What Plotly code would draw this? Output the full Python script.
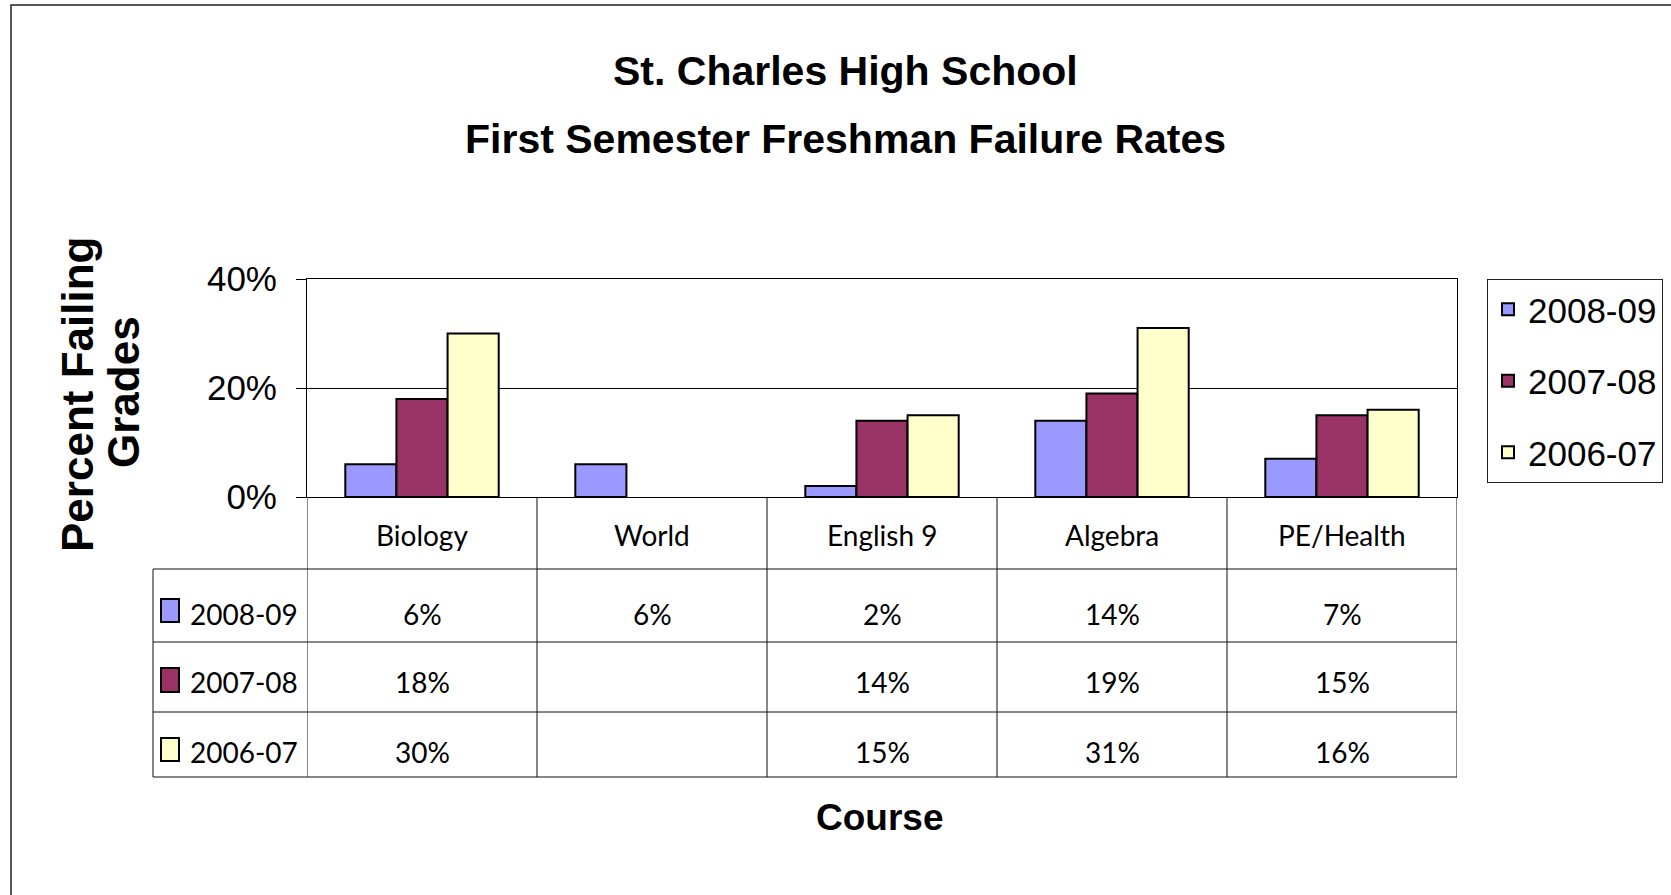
import plotly.graph_objects as go

# ---------------- data ----------------
categories = ["Biology", "World", "English 9", "Algebra", "PE/Health"]
series_names = ["2008-09", "2007-08", "2006-07"]
rate_2008_09 = [0.06, 0.06, 0.02, 0.14, 0.07]
rate_2007_08 = [0.18, None, 0.14, 0.19, 0.15]
rate_2006_07 = [0.30, None, 0.15, 0.31, 0.16]
series_colors = ["#9999FF", "#993366", "#FFFFCC"]
y_tickvals = [0, 0.2, 0.4]
y_ticktext = ["0%", "20%", "40%"]

title_line1 = "St. Charles High School"
title_line2 = "First Semester Freshman Failure Rates"
y_title_line1 = "Percent Failing"
y_title_line2 = "Grades"
x_title = "Course"

series_values = [rate_2008_09, rate_2007_08, rate_2006_07]

# ---------------- layout geometry (pixels) ----------------
W, H = 1671, 895
PL, PR, PT, PB = 307, 1457, 279, 497


def px(x):
    return (x - PL) / (PR - PL)


def py(y):
    return (PB - y) / (PB - PT)


ARIAL = "Liberation Sans, Arial, sans-serif"
TABLE_FONT = "Lato, Open Sans, sans-serif"

fig = go.Figure()
for name, vals, color in zip(series_names, series_values, series_colors):
    fig.add_trace(go.Bar(
        x=categories, y=vals, name=name, legendgroup=name,
        marker=dict(color=color, line=dict(color="black", width=2)),
    ))

shapes = []
annotations = []


def label(x, y, text, font, **kw):
    d = dict(xref="paper", yref="paper", x=x, y=y, text=text, showarrow=False,
             xanchor="center", yanchor="middle", font=font)
    d.update(kw)
    annotations.append(d)


# outer chart border
shapes.append(dict(type="rect", xref="paper", yref="paper",
                   x0=px(11), x1=px(W + 10), y0=py(5), y1=py(H + 10),
                   line=dict(color="#222222", width=1.5), fillcolor="rgba(0,0,0,0)",
                   layer="above"))

# data table grid
TABLE_LEFT = 153
row_lines = [569, 642, 712, 777]
for yl in row_lines:
    shapes.append(dict(type="line", xref="paper", yref="paper",
                       x0=px(TABLE_LEFT), x1=px(PR), y0=py(yl), y1=py(yl),
                       line=dict(color="#111111", width=1)))
shapes.append(dict(type="line", xref="paper", yref="paper",
                   x0=px(TABLE_LEFT), x1=px(TABLE_LEFT), y0=py(569), y1=py(777),
                   line=dict(color="#111111", width=1)))
for b in range(len(categories) + 1):
    shapes.append(dict(type="line", xref="x", yref="paper",
                       x0=b - 0.5, x1=b - 0.5, y0=py(PB), y1=py(777),
                       line=dict(color="#111111", width=1)))

tfont = dict(family=TABLE_FONT, size=28, color="black")

# category labels in header row
for c in categories:
    label(c, py(535), c, tfont, xref="x")

# row headers and values
row_text_y = [614, 682, 752]
key_boxes = [(599, 622), (668, 692), (738, 761)]
for name, vals, color, ty, (k0, k1) in zip(series_names, series_values, series_colors,
                                           row_text_y, key_boxes):
    shapes.append(dict(type="rect", xref="paper", yref="paper",
                       x0=px(161), x1=px(179), y0=py(k1), y1=py(k0),
                       fillcolor=color, line=dict(color="black", width=2)))
    label(px(188), py(ty), name, tfont, xanchor="left")
    for c, v in zip(categories, vals):
        if v is None:
            continue
        label(c, py(ty), f"{round(v * 100)}%", tfont, xref="x")

# titles
label(px(845), py(71), title_line1,
      dict(family=ARIAL, size=41, color="black", weight="bold"))
label(px(845), py(139), title_line2,
      dict(family=ARIAL, size=41, color="black", weight="bold"))
label(px(879), py(817), x_title,
      dict(family=ARIAL, size=37, color="black", weight="bold"))
label(px(77), py(395), y_title_line1,
      dict(family=ARIAL, size=44, color="black", weight="bold"), textangle=-90)
label(px(123), py(392), y_title_line2,
      dict(family=ARIAL, size=44, color="black", weight="bold"), textangle=-90)

fig.update_layout(
    width=W, height=H,
    margin=dict(l=PL, r=W - PR, t=PT, b=H - PB, pad=0, autoexpand=False),
    paper_bgcolor="white", plot_bgcolor="white",
    barmode="group", bargap=0.333, bargroupgap=0,
    showlegend=True,
    legend=dict(x=px(1487), y=py(279), xanchor="left", yanchor="top",
                bgcolor="white", bordercolor="#222222", borderwidth=1,
                font=dict(family=ARIAL, size=35, color="black"),
                tracegroupgap=23, traceorder="grouped"),
    shapes=shapes, annotations=annotations,
    xaxis=dict(range=[-0.5, len(categories) - 0.5], showticklabels=False, ticks="",
               showgrid=False, zeroline=False, showline=True, linecolor="black",
               linewidth=1, mirror=True, fixedrange=True),
    yaxis=dict(range=[0, 0.4], tickvals=y_tickvals, ticktext=y_ticktext,
               ticks="outside", ticklen=10, tickcolor="black", tickwidth=1,
               ticklabelstandoff=12,
               showgrid=True, gridcolor="black", gridwidth=1, zeroline=False,
               showline=True, linecolor="black", linewidth=1, mirror=True,
               tickfont=dict(family=ARIAL, size=35, color="black"), fixedrange=True),
    hovermode=False,
)

fig.write_html("out.html", config={"displayModeBar": False},
               post_script="document.body.style.margin='0';document.body.style.overflow='hidden';")
